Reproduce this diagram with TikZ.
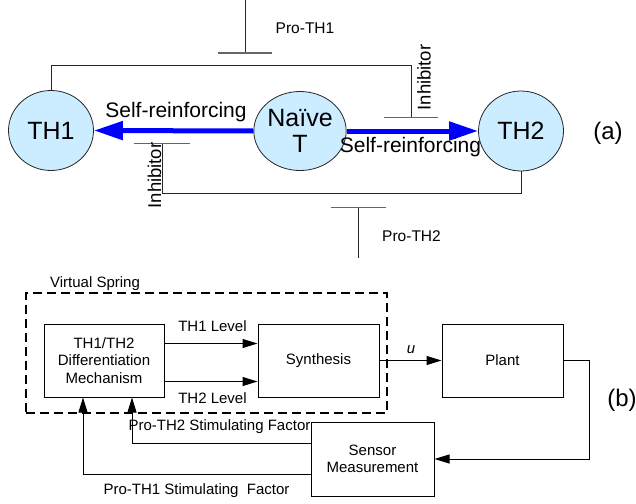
\documentclass[tikz,border=0pt]{standalone}
\usepackage{fontspec}
\setmainfont{Liberation Sans}
\usetikzlibrary{shapes.geometric,arrows.meta}
\definecolor{cellblue}{RGB}{204,236,255}
\begin{document}
\begin{tikzpicture}[x=1pt,y=-1pt,
  cell/.style={ellipse,draw=black!85,line width=0.8pt,fill=cellblue,minimum width=85pt,minimum height=80pt,inner sep=0pt,font=\fontsize{25}{26.5}\selectfont,align=center},
  reinf/.style={draw=blue,line width=5pt,-{Triangle[length=29pt,width=18pt]}},
  thinline/.style={draw=black!85,line width=0.8pt},
  barline/.style={draw=black!60,line width=1pt},
  lbl/.style={font=\fontsize{15}{17.5}\selectfont,inner sep=0pt,align=center},
  biglbl/.style={font=\fontsize{21}{23}\selectfont,inner sep=0pt},
  inhlbl/.style={font=\fontsize{18.5}{20}\selectfont,inner sep=0pt,rotate=90},
  partlbl/.style={font=\fontsize{24}{26}\selectfont,inner sep=0pt},
  blk/.style={draw,line width=1pt,inner sep=0pt,align=center,font=\fontsize{15}{17.5}\selectfont},
  flow/.style={draw,line width=1pt,-{Triangle[length=15pt,width=9pt]}}
]
\useasboundingbox (0,0) rectangle (636,503);

% ---------- part (a) ----------
\node[cell] (th1) at (51,130.5) {TH1};
\node[cell,minimum width=84pt,minimum height=79pt] (naive) at (300,131) {Naïve\\T};
\node[cell] (th2) at (521,131) {TH2};

\draw[reinf] (naive.west) -- (th1.east);
\draw[reinf] (naive.east) -- (th2.west);

\node[biglbl] (sr1) at (176,112) {Self-reinforcing};
\node[biglbl] (sr2) at (410.5,147) {Self-reinforcing};

% Pro-TH1
\coordinate (p1top) at (245,0);
\coordinate (p1) at (245,53);
\draw[thinline] (p1top) -- (p1);
\draw[barline] ([xshift=-27pt]p1) -- ([xshift=27pt]p1);
\node[lbl,font=\fontsize{15.5}{17}\selectfont] (pth1) at (305,28) {Pro-TH1};

% TH1 inhibits TH2
\coordinate (i1) at (411,117);
\draw[thinline] (th1.north) -- ++(0,-24.5) -| (i1);
\draw[barline] ([xshift=-27pt]i1) -- ([xshift=27pt]i1);
\node[inhlbl] (inh1) at (424,77.5) {Inhibitor};

% TH2 inhibits TH1
\coordinate (i2) at (162,143);
\draw[thinline] (th2.south) -- ++(0,22) -| (i2);
\draw[barline] ([xshift=-28pt]i2) -- ([xshift=28pt]i2);
\node[inhlbl] (inh2) at (154.5,175.5) {Inhibitor};

% Pro-TH2
\coordinate (p2) at (358,207);
\coordinate (p2end) at (358,258);
\draw[thinline] (p2) -- (p2end);
\draw[barline] ([xshift=-27.5pt]p2) -- ([xshift=27.5pt]p2);
\node[lbl,font=\fontsize{15.5}{17}\selectfont] (pth2) at (411.5,236) {Pro-TH2};

\node[partlbl] (la) at (608,133) {(a)};

% ---------- part (b) ----------
\node[draw,line width=1.1pt,dash pattern=on 9pt off 5pt,minimum width=361pt,minimum height=120pt,inner sep=0pt] (vs) at (206.5,353) {};
\node[lbl] (vslbl) at (95,284) {Virtual Spring};

\node[blk,minimum width=120pt,minimum height=73pt] (diff) at (104,360.5) {TH1/TH2\\Differentiation\\Mechanism};
\node[blk,minimum width=121pt,minimum height=73pt] (syn) at (318.5,360.5) {Synthesis};
\node[blk,minimum width=121pt,minimum height=73pt] (plant) at (502.5,360.5) {Plant};
\node[blk,minimum width=123pt,minimum height=74pt] (sensor) at (372.5,459) {Sensor\\Measurement};

\draw[flow] ([yshift=17pt]diff.east) -- ([yshift=17pt]syn.west);
\draw[flow] ([yshift=-21pt]diff.east) -- ([yshift=-21pt]syn.west);
\node[lbl] (l1) at (212.5,325.7) {TH1 Level};
\node[lbl] (l2) at (212.5,397.7) {TH2 Level};

\draw[flow] (syn.east) -- (plant.west);
\node[lbl,font=\fontsize{15}{17}\selectfont\itshape] (ulbl) at (411,350) {u};

\draw[flow] (plant.east) -- ++(25.5,0) |- (sensor.east);

\draw[flow] ([yshift=16pt]sensor.west) -| ([xshift=28pt]diff.south);
\draw[flow] ([yshift=-15pt]sensor.west) -| ([xshift=-21pt]diff.south);
\node[lbl] (f2) at (219.5,427) {Pro-TH2 Stimulating Factor};
\node[lbl] (f1) at (196.5,491) {Pro-TH1 Stimulating\ \ Factor};

\node[partlbl] (lb) at (622,400) {(b)};
\end{tikzpicture}
\end{document}
